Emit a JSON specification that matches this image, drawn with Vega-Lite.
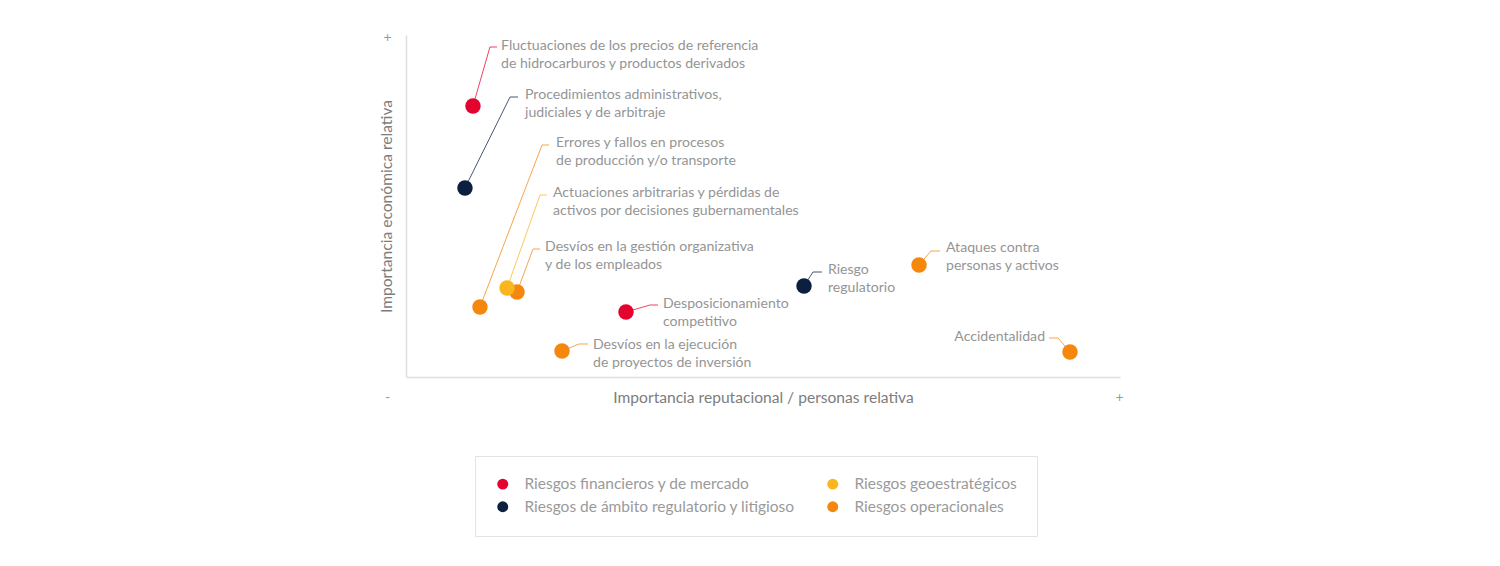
{
  "$schema": "https://vega.github.io/schema/vega-lite/v6.json",
  "width": 714,
  "height": 342,
  "autosize": {"type": "none"},
  "padding": {"left": 406, "top": 35, "right": 380, "bottom": 189},
  "background": "white",
  "config": {
    "view": {"stroke": null},
    "font": "Lato",
    "text": {"font": "Lato"}
  },
  "data": {
    "values": [
      {"riesgo": ["Fluctuaciones de los precios de referencia", "de hidrocarburos y productos derivados"], "tipo": "Riesgos financieros y de mercado", "rep": 9.38, "eco": 79.24, "codoX": 11.76, "codoY": 96.49, "finX": 12.75, "textoX": 13.31, "textoY": 96.78, "alinea": "left"},
      {"riesgo": ["Procedimientos administrativos,", "judiciales y de arbitraje"], "tipo": "Riesgos de ámbito regulatorio y litigioso", "rep": 8.26, "eco": 55.26, "codoX": 14.57, "codoY": 81.87, "finX": 15.69, "textoX": 16.67, "textoY": 82.46, "alinea": "left"},
      {"riesgo": ["Errores y fallos en procesos", "de producción y/o transporte"], "tipo": "Riesgos operacionales", "rep": 10.36, "eco": 20.47, "codoX": 19.05, "codoY": 67.84, "finX": 20.03, "textoX": 21.01, "textoY": 68.42, "alinea": "left"},
      {"riesgo": ["Desvíos en la gestión organizativa", "y de los empleados"], "tipo": "Riesgos operacionales", "rep": 15.55, "eco": 24.85, "codoX": 17.79, "codoY": 37.43, "finX": 18.77, "textoX": 19.47, "textoY": 38.01, "alinea": "left"},
      {"riesgo": ["Actuaciones arbitrarias y pérdidas de", "activos por decisiones gubernamentales"], "tipo": "Riesgos geoestratégicos", "rep": 14.15, "eco": 26.02, "codoX": 18.77, "codoY": 53.22, "finX": 19.75, "textoX": 20.59, "textoY": 53.8, "alinea": "left"},
      {"riesgo": ["Desposicionamiento", "competitivo"], "tipo": "Riesgos financieros y de mercado", "rep": 30.81, "eco": 19.01, "codoX": 34.17, "codoY": 21.05, "finX": 35.29, "textoX": 35.99, "textoY": 21.35, "alinea": "left"},
      {"riesgo": ["Desvíos en la ejecución", "de proyectos de inversión"], "tipo": "Riesgos operacionales", "rep": 21.85, "eco": 7.6, "codoX": 24.23, "codoY": 9.65, "finX": 25.49, "textoX": 26.19, "textoY": 9.36, "alinea": "left"},
      {"riesgo": ["Riesgo", "regulatorio"], "tipo": "Riesgos de ámbito regulatorio y litigioso", "rep": 55.74, "eco": 26.61, "codoX": 57.0, "codoY": 30.7, "finX": 58.26, "textoX": 59.1, "textoY": 31.29, "alinea": "left"},
      {"riesgo": ["Ataques contra", "personas y activos"], "tipo": "Riesgos operacionales", "rep": 71.85, "eco": 32.75, "codoX": 73.53, "codoY": 36.84, "finX": 74.79, "textoX": 75.63, "textoY": 37.72, "alinea": "left"},
      {"riesgo": ["Accidentalidad"], "tipo": "Riesgos operacionales", "rep": 93.0, "eco": 7.31, "codoX": 91.32, "codoY": 11.4, "finX": 90.06, "textoX": 89.5, "textoY": 11.7, "alinea": "right"}
    ]
  },
  "encoding": {
    "color": {
      "field": "tipo",
      "type": "nominal",
      "scale": {
        "domain": ["Riesgos financieros y de mercado", "Riesgos de ámbito regulatorio y litigioso", "Riesgos geoestratégicos", "Riesgos operacionales"],
        "range": ["#e4032e", "#0d1f3f", "#fbb51f", "#f5870c"]
      },
      "legend": {
        "title": null,
        "orient": "none",
        "legendX": 69,
        "legendY": 421,
        "columns": 2,
        "columnPadding": 30,
        "rowPadding": 6,
        "padding": 20,
        "strokeColor": "#e3e3e3",
        "symbolType": "circle",
        "symbolSize": 120,
        "symbolStrokeWidth": 0,
        "symbolOpacity": 1,
        "labelOffset": 14,
        "labelFont": "Lato",
        "labelFontSize": 15.5,
        "labelColor": "#9a9a9a",
        "labelLimit": 400
      }
    }
  },
  "layer": [
    {
      "mark": {"type": "rule", "strokeWidth": 1, "opacity": 0.75},
      "encoding": {
        "x": {
          "field": "rep",
          "type": "quantitative",
          "scale": {"domain": [0, 100], "nice": false, "zero": false},
          "axis": {
            "values": [0, 100],
            "labelExpr": "datum.value == 0 ? '-' : '+'",
            "labelFlush": false,
            "labelAlign": "center",
            "labelBaseline": "middle",
            "labelPadding": 20,
            "labelOffset": {"condition": {"test": "datum.value == 0", "value": -19}, "value": -1},
            "labelFontSize": 14,
            "labelColor": "#9a9a9a",
            "ticks": false,
            "grid": false,
            "domainColor": "#dedede",
            "domainWidth": 1.5,
            "title": "Importancia reputacional / personas relativa",
            "titleY": 20,
            "titleBaseline": "middle",
            "titleFont": "Lato",
            "titleFontSize": 15.6,
            "titleFontWeight": "normal",
            "titleColor": "#7d7d7d"
          }
        },
        "y": {
          "field": "eco",
          "type": "quantitative",
          "scale": {"domain": [0, 100], "nice": false, "zero": false},
          "axis": {
            "values": [100],
            "labelExpr": "'+'",
            "labelAlign": "center",
            "labelBaseline": "middle",
            "labelPadding": 19,
            "labelOffset": 2,
            "labelFontSize": 14,
            "labelColor": "#9a9a9a",
            "ticks": false,
            "grid": false,
            "domainColor": "#dedede",
            "domainWidth": 1.5,
            "title": "Importancia económica relativa",
            "titleX": -20,
            "titleBaseline": "middle",
            "titleFont": "Lato",
            "titleFontSize": 15.6,
            "titleFontWeight": "normal",
            "titleColor": "#7d7d7d"
          }
        },
        "x2": {"field": "codoX"},
        "y2": {"field": "codoY"}
      }
    },
    {
      "mark": {"type": "rule", "strokeWidth": 1, "opacity": 0.75},
      "encoding": {
        "x": {"field": "codoX", "type": "quantitative"},
        "x2": {"field": "finX"},
        "y": {"field": "codoY", "type": "quantitative"}
      }
    },
    {
      "mark": {"type": "point", "filled": true, "size": 240, "opacity": 1, "strokeWidth": 0},
      "encoding": {
        "x": {"field": "rep", "type": "quantitative"},
        "y": {"field": "eco", "type": "quantitative"}
      }
    },
    {
      "transform": [{"filter": "datum.alinea == 'left'"}],
      "mark": {"type": "text", "align": "left", "baseline": "middle", "fontSize": 14.1, "lineHeight": 18, "font": "Lato"},
      "encoding": {
        "x": {"field": "textoX", "type": "quantitative"},
        "y": {"field": "textoY", "type": "quantitative"},
        "text": {"field": "riesgo"},
        "color": {"value": "#959595"}
      }
    },
    {
      "transform": [{"filter": "datum.alinea == 'right'"}],
      "mark": {"type": "text", "align": "right", "baseline": "middle", "fontSize": 14.1, "lineHeight": 18, "font": "Lato"},
      "encoding": {
        "x": {"field": "textoX", "type": "quantitative"},
        "y": {"field": "textoY", "type": "quantitative"},
        "text": {"field": "riesgo"},
        "color": {"value": "#959595"}
      }
    }
  ]
}
